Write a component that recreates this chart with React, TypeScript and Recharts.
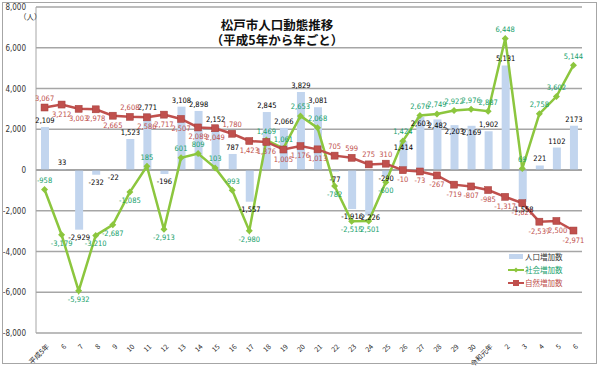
import React from 'react';
import { ComposedChart, Bar, Line, XAxis, YAxis, CartesianGrid, ReferenceLine, LabelList, Legend } from 'recharts';

const categories = ['平成5年', '6', '7', '8', '9', '10', '11', '12', '13', '14', '15', '16', '17', '18', '19', '20', '21', '22', '23', '24', '25', '26', '27', '28', '29', '30', '令和元年', '2', '3', '4', '5', '6'];
const populationIncrease = [2109, 33, -2929, -232, -22, 1523, 2771, -196, 3108, 2898, 2152, 787, -1557, 2845, 2066, 3829, 3081, -77, -1916, -2226, -290, 1414, 2603, 2482, 2203, 2169, 1902, 5131, -1558, 221, 1102, 2173];
const socialIncrease = [-958, -3179, -5932, -3210, -2687, -1085, 185, -2913, 601, 809, 103, -993, -2980, 1469, 1061, 2653, 2068, -782, -2515, -2501, -600, 1424, 2676, 2749, 2922, 2976, 2887, 6448, 69, 2758, 3602, 5144];
const naturalIncrease = [3067, 3212, 3003, 2978, 2665, 2608, 2586, 2717, 2507, 2089, 2049, 1780, 1423, 1376, 1005, 1176, 1013, 705, 599, 275, 310, -10, -73, -267, -719, -807, -985, -1317, -1627, -2537, -2500, -2971];
const yTicks = [8000, 6000, 4000, 2000, 0, -2000, -4000, -6000, -8000];
const seriesNames = ['人口増加数', '社会増加数', '自然増加数'];
const plainLabelFrom = 30;

const data = categories.map((name, i) => ({
  name,
  pop: populationIncrease[i],
  social: socialIncrease[i],
  natural: naturalIncrease[i],
}));

const NUM_FONT = "'Liberation Sans Narrow', 'DejaVu Sans Condensed', Arial, sans-serif";
const JP_FONT = "'Noto Sans CJK JP', 'Noto Sans', sans-serif";
const BAR_COLOR = '#c2d5ee';
const GREEN = '#8cc63e';
const GREEN_TEXT = '#14a06a';
const RED = '#c0504d';

const fmt = (v: number) => v.toLocaleString('en-US');

const BarLabel = (p: any) => {
  const { x, y, width, height, value, index } = p;
  const top = Math.min(y, y + height);
  const bottom = Math.max(y, y + height);
  const cx = x + width / 2;
  const text = index >= plainLabelFrom ? String(value) : fmt(value);
  const social = socialIncrease[index];
  const inside = value > 0 && social > 0 && Math.abs(value - social) < 900;
  const closeBelow = value < 0 && social < value && value - social < 400;
  const ty = value >= 0 ? (inside ? top + 9 : top - 4) : closeBelow ? bottom + 5 : bottom + 10;
  return (
    <text x={cx} y={ty} textAnchor="middle" fontSize={7.5} fill="#000" fontFamily={NUM_FONT}>
      {text}
    </text>
  );
};

const SocialLabel = (p: any) => {
  const { x, y, value, index } = p;
  const above = value >= 0 || (value > -1000 && populationIncrease[index] >= 0);
  const ty = above ? y - 6.5 : y + 11;
  return (
    <text x={x} y={ty} textAnchor="middle" fontSize={7.5} fill={GREEN_TEXT} fontFamily={NUM_FONT}>
      {fmt(value)}
    </text>
  );
};

const NaturalLabel = (p: any) => {
  const { x, y, value, index } = p;
  const pop = populationIncrease[index];
  const gap = value - pop;
  const above =
    (pop > 0 && gap > 0 && gap < 1500) ||
    (value > 0 && value < 1000 && socialIncrease[index] < 0);
  const ty = above ? y - 7 : y + 12;
  return (
    <text x={x} y={ty} textAnchor="middle" fontSize={7.5} fill={RED} fontFamily={NUM_FONT}>
      {fmt(value)}
    </text>
  );
};

const Diamond = (p: any) => {
  const { cx, cy } = p;
  if (cx == null || cy == null) return null;
  const r = 3.5;
  return <polygon points={`${cx},${cy - r} ${cx + r},${cy} ${cx},${cy + r} ${cx - r},${cy}`} fill={GREEN} />;
};

const Square = (p: any) => {
  const { cx, cy } = p;
  if (cx == null || cy == null) return null;
  return <rect x={cx - 3.5} y={cy - 3.5} width={7} height={7} fill={RED} stroke="#a33c39" strokeWidth={0.5} />;
};

const XTick = (p: any) => {
  const { x, y, payload } = p;
  return (
    <g transform={`translate(${x + 3},${y + 4})`}>
      <text transform="rotate(-45)" textAnchor="end" fontSize={7} fill="#222" fontFamily={JP_FONT} dy={3}>
        {payload.value}
      </text>
    </g>
  );
};

const YTick = (p: any) => {
  const { x, y, payload } = p;
  return (
    <text x={x - 2} y={y + 3} textAnchor="end" fontSize={8} fill="#333" fontFamily={NUM_FONT}>
      {fmt(payload.value)}
    </text>
  );
};

const LegendContent = () => (
  <svg width={90} height={44} style={{ display: 'block' }}>
    <rect x={4} y={3} width={14} height={5} fill={BAR_COLOR} />
    <text x={20} y={9} fontSize={7.5} fill="#333" fontFamily={JP_FONT}>{seriesNames[0]}</text>
    <line x1={3} y1={19} x2={19} y2={19} stroke={GREEN} strokeWidth={2} />
    <polygon points="11,16.5 13.5,19 11,21.5 8.5,19" fill={GREEN} />
    <text x={20} y={22} fontSize={7.5} fill={GREEN_TEXT} fontFamily={JP_FONT}>{seriesNames[1]}</text>
    <line x1={3} y1={32} x2={19} y2={32} stroke={RED} strokeWidth={2} />
    <rect x={8} y={29} width={6} height={6} fill={RED} />
    <text x={20} y={35} fontSize={7.5} fill={RED} fontFamily={JP_FONT}>{seriesNames[2]}</text>
  </svg>
);

export default function App() {
  return (
    <div style={{ position: 'absolute', left: 0, top: 0, width: 600, height: 367, background: '#fff', overflow: 'hidden' }}>
      <ComposedChart width={600} height={367} data={data} margin={{ top: 7, right: 18, left: 0, bottom: 4 }}>
        <CartesianGrid vertical={false} stroke="#a6a6a6" strokeWidth={1.5} />
        <XAxis dataKey="name" interval={0} height={30} tick={<XTick />} axisLine={false} tickLine={false} />
        <YAxis
          domain={[-8000, 8000]}
          ticks={yTicks}
          interval={0}
          width={36}
          tick={<YTick />}
          axisLine={{ stroke: '#a6a6a6', strokeWidth: 1 }}
          tickLine={false}
          allowDataOverflow
        />
        <ReferenceLine y={0} stroke="#8c8c8c" strokeWidth={1} />
        <Bar dataKey="pop" name={seriesNames[0]} fill={BAR_COLOR} barSize={8} isAnimationActive={false}>
          <LabelList dataKey="pop" content={<BarLabel />} />
        </Bar>
        <Line
          dataKey="social"
          name={seriesNames[1]}
          stroke={GREEN}
          strokeWidth={2.5}
          dot={<Diamond />}
          activeDot={false}
          isAnimationActive={false}
        >
          <LabelList dataKey="social" content={<SocialLabel />} />
        </Line>
        <Line
          dataKey="natural"
          name={seriesNames[2]}
          stroke={RED}
          strokeWidth={2.5}
          dot={<Square />}
          activeDot={false}
          isAnimationActive={false}
        >
          <LabelList dataKey="natural" content={<NaturalLabel />} />
        </Line>
        <Legend
          layout="vertical"
          align="center"
          verticalAlign="middle"
          content={<LegendContent />}
          wrapperStyle={{ position: 'absolute', left: 505, top: 251, width: 90, height: 44 }}
        />
      </ComposedChart>
      <div style={{ position: 'absolute', left: 0, top: 0, width: 554, textAlign: 'center', fontFamily: JP_FONT, fontWeight: 700, fontSize: 12.5, lineHeight: '15px', paddingTop: 17, color: '#111' }}>
        <div>松戸市人口動態推移</div>
        <div>（平成5年から年ごと）</div>
      </div>
      <div style={{ position: 'absolute', left: 19, top: 11, fontFamily: JP_FONT, fontSize: 7.5, color: '#333' }}>（人）</div>
      <div style={{ position: 'absolute', left: 2, top: 2, width: 595, height: 362, border: '1px solid #a6a6a6', boxSizing: 'border-box', pointerEvents: 'none' }} />
    </div>
  );
}
